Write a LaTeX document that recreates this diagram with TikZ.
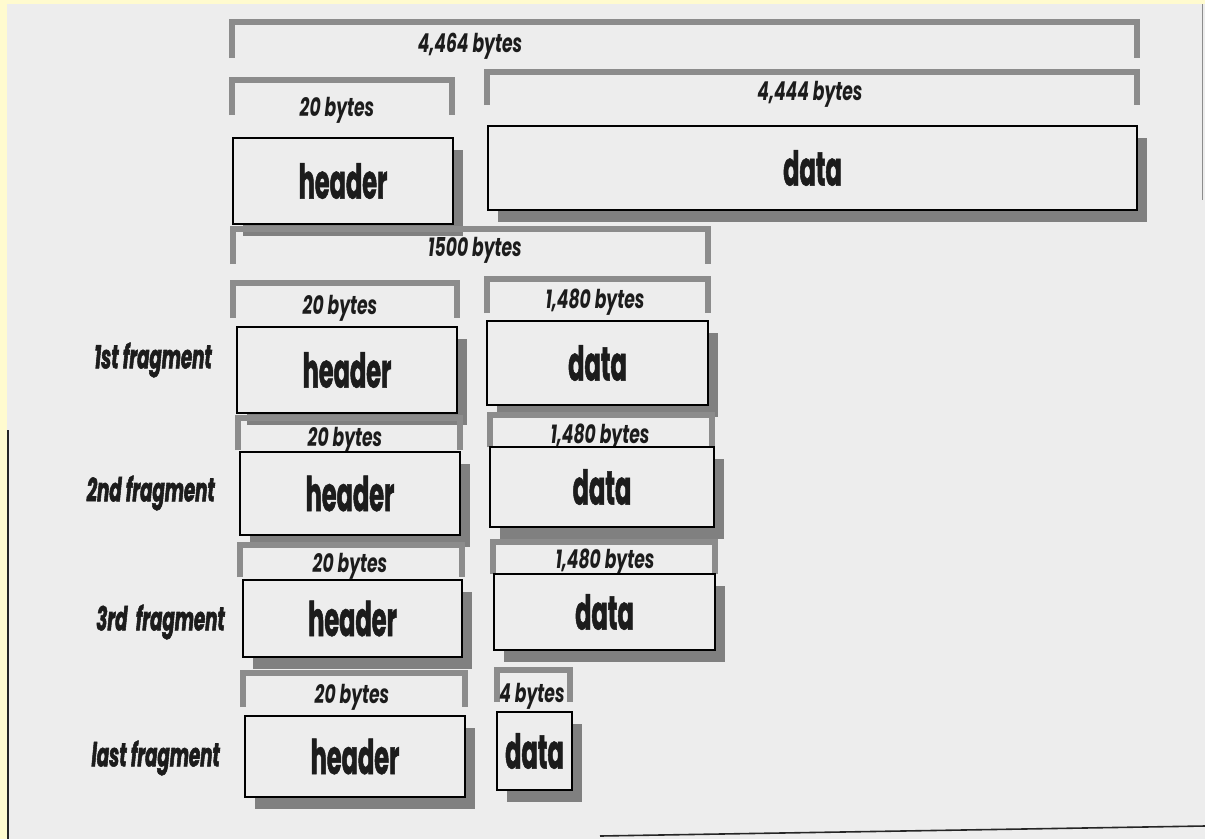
\documentclass[tikz,border=0pt]{standalone}
\usepackage{fontspec}
\setmainfont{Poppins}
\newfontfamily\bigfam[FakeStretch=0.5,FakeBold=1]{Poppins}
\newfontfamily\lblfam[FakeStretch=0.66]{Poppins}
\newfontfamily\fragfam[FakeStretch=0.55,FakeBold=1.6]{Poppins}
\usetikzlibrary{shadows}
\definecolor{paper}{HTML}{EDEDED}
\definecolor{yel}{HTML}{FFFBCF}
\definecolor{brk}{HTML}{8C8C8C}
\definecolor{ink}{HTML}{1C1C1C}
\newcommand{\bigtxt}{\bigfam\bfseries\fontsize{48}{48}\selectfont}
\newcommand{\lbltxt}{\lblfam\bfseries\itshape\fontsize{26}{26}\selectfont}
\newcommand{\fragtxt}{\fragfam\bfseries\itshape\fontsize{33}{33}\selectfont}
\newcommand{\brkt}[4]{\draw[brack] (#1,#4) |- (#2,#3) -- (#2,#4);}
\begin{document}
\begin{tikzpicture}[x=1pt,y=-1pt,
  box/.style={draw=black, line width=2.8pt, fill=paper, inner sep=0pt,
    drop shadow={shadow xshift=10pt, shadow yshift=-12pt, fill=black!50, opacity=1},
    font=\bigtxt, text=ink},
  brack/.style={draw=brk, line width=6pt, line join=miter},
  lbl/.style={font=\lbltxt, text=ink, inner sep=0pt},
  frag/.style={font=\fragtxt, text=ink, anchor=east, inner sep=0pt}]
\useasboundingbox (0,0) rectangle (1205,839);
\fill[yel] (0,0) rectangle (1205,839);
\fill[paper] (7,4) rectangle (1205,839);
\draw[line width=1.6pt, black!85] (8,430) -- (8,839);
\draw[line width=1.6pt, black!85] (600,836) -- (1205,826);
\draw[line width=1pt, black!45] (1202,4) -- (1202,200);

% ---- original datagram ----
\brkt{232}{1137}{22}{58}
\node[lbl] (l0) at (470,46) {4,464 bytes};
\brkt{232}{452}{80}{115}
\node[lbl] (l0h) at (337,110) {20 bytes};
\brkt{487}{1137}{72}{105}
\node[lbl] (l0d) at (810,94) {4,444 bytes};
\node[box, minimum width=220pt, minimum height=86pt] (h0) at (343,181) {header};
\node[box, minimum width=649pt, minimum height=84pt] (d0) at (812.5,168) {data};

% ---- 1st fragment ----
\brkt{233}{708}{229}{264}
\node[lbl] (l1) at (475,250) {1500 bytes};
\brkt{233}{457}{283}{318}
\node[lbl] (l1h) at (340,308) {20 bytes};
\brkt{487}{708}{279}{313}
\node[lbl] (l1d) at (595,302) {1,480 bytes};
\node[box, minimum width=220pt, minimum height=86pt] (h1) at (347,370) {header};
\node[box, minimum width=221pt, minimum height=84pt] (d1) at (597.5,363) {data};
\node[frag] (f1) at (212,360) {1st fragment};

% ---- 2nd fragment ----
\brkt{238}{460}{418}{450}
\node[lbl] (l2h) at (345,440) {20 bytes};
\brkt{490}{712}{415}{447}
\node[lbl] (l2d) at (600,437) {1,480 bytes};
\node[box, minimum width=220pt, minimum height=83pt] (h2) at (350,493.5) {header};
\node[box, minimum width=224pt, minimum height=80pt] (d2) at (602,487) {data};
\node[frag] (f2) at (215,493) {2nd fragment};

% ---- 3rd fragment ----
\brkt{240}{462}{545}{577}
\node[lbl] (l3h) at (350,566) {20 bytes};
\brkt{493}{715}{542}{574}
\node[lbl] (l3d) at (605,562) {1,480 bytes};
\node[box, minimum width=219pt, minimum height=77pt] (h3) at (352.5,618.5) {header};
\node[box, minimum width=221pt, minimum height=76pt] (d3) at (604.5,612) {data};
\node[frag] (f3) at (225,622) {3rd\ \ fragment};

% ---- last fragment ----
\brkt{243}{465}{673}{707}
\node[lbl] (l4h) at (352,697) {20 bytes};
\brkt{497}{570}{670}{702}
\node[lbl] (l4d) at (532,696) {4 bytes};
\node[box, minimum width=220pt, minimum height=81pt] (h4) at (355,756.5) {header};
\node[box, minimum width=75pt, minimum height=78pt] (d4) at (534.5,751) {data};
\node[frag] (f4) at (220,758) {last fragment};
\end{tikzpicture}
\end{document}
